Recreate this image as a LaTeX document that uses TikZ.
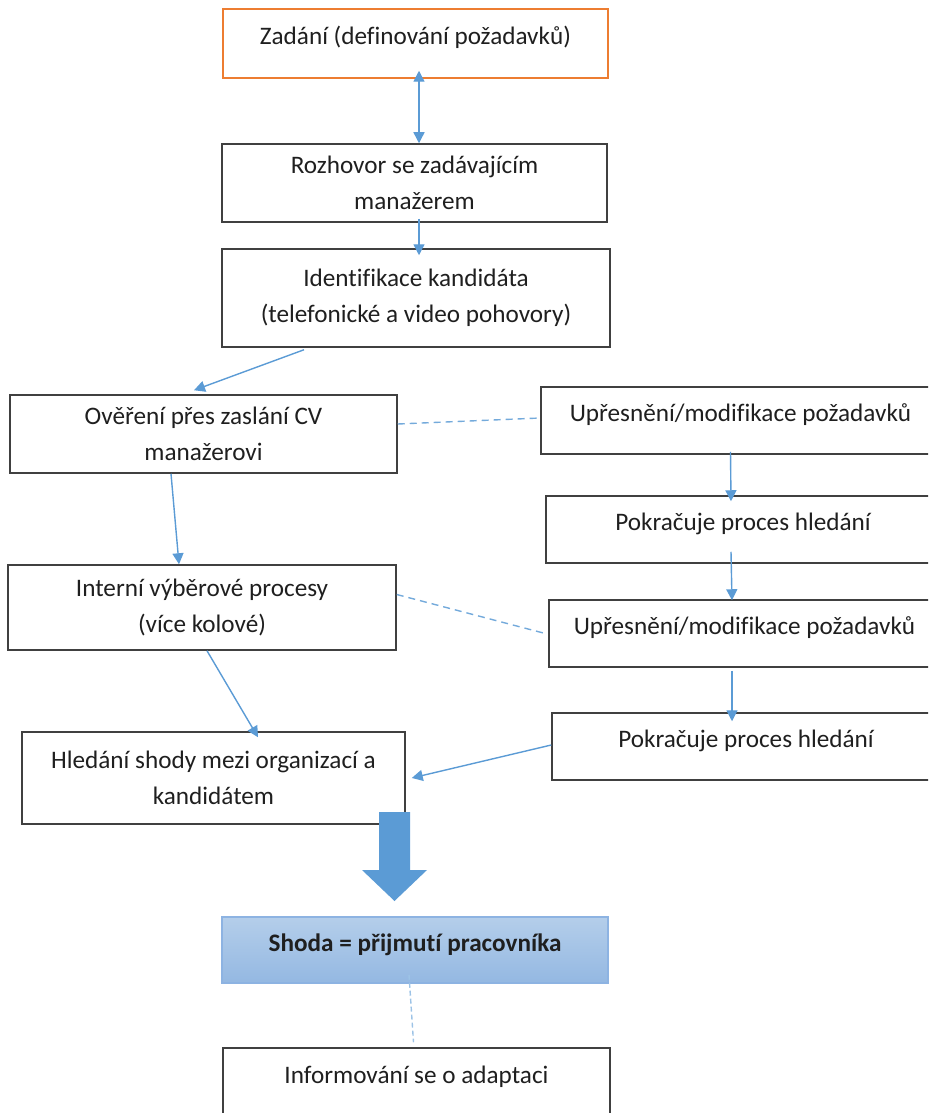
\documentclass[tikz,border=0pt]{standalone}
\usepackage{fontspec}
\setmainfont{Carlito}[Ligatures=NoCommon]
\usepackage{tikz}
\usetikzlibrary{arrows.meta, calc}
\definecolor{accblue}{HTML}{5B9BD5}
\definecolor{accorange}{HTML}{ED7D31}
\definecolor{boxline}{HTML}{404040}
\definecolor{shotop}{HTML}{B4CEEA}
\definecolor{shobot}{HTML}{94B8E2}
\definecolor{sholine}{HTML}{8DB3E2}
\definecolor{dotblue}{HTML}{9DC3E6}
\tikzset{
  box/.style      = {rectangle, draw=boxline, line width=0.75pt, align=center,
                     inner sep=0pt, text=black!88,
                     font=\fontsize{12.6}{18}\selectfont},
  onel/.style     = {text height=9pt, text depth=8pt},
  flow/.style     = {-{Triangle[length=5.5pt,width=5.5pt]}, accblue, line width=0.7pt},
  flowboth/.style = {{Triangle[length=5.5pt,width=5.5pt]}-{Triangle[length=5.5pt,width=5.5pt]},
                     accblue, line width=0.7pt},
  link/.style     = {accblue!85, line width=0.7pt, dash pattern=on 3.5pt off 2.5pt},
  hint/.style     = {dotblue, line width=0.7pt, dash pattern=on 2.5pt off 1.5pt},
}

\begin{document}
\begin{tikzpicture}[x=0.5pt, y=-0.5pt]
  \useasboundingbox (0,0) rectangle (928,1113);
  \clip (0,0) rectangle (928,1113);

  % left column
  \node[box, onel, draw=accorange, minimum width=192.5pt, minimum height=34.5pt] (zad) at (415.5,43.5) {Zadání (definování požadavků)};
  \node[box, minimum width=192.5pt, minimum height=39pt] (roz) at (414.5,183) {Rozhovor se zadávajícím\\manažerem};
  \node[box, minimum width=194pt, minimum height=49pt] (ide) at (416,298) {Identifikace kandidáta\\(telefonické a video pohovory)};
  \node[box, minimum width=193.5pt, minimum height=39pt] (ove) at (203.5,434) {Ověření přes zaslání CV\\manažerovi};
  \node[box, minimum width=194pt, minimum height=42.5pt] (int) at (202,607.5) {Interní výběrové procesy\\(více kolové)};
  \node[box, minimum width=191.5pt, minimum height=46pt] (hle) at (213.5,778) {Hledání shody mezi organizací a\\kandidátem};

  % right column
  \node[box, onel, minimum width=199.5pt, minimum height=33.5pt] (upr1) at (740.5,420.5) {Upřesnění/modifikace požadavků};
  \node[box, onel, minimum width=197pt, minimum height=33.5pt] (pok1) at (743,529.5) {Pokračuje proces hledání};
  \node[box, onel, minimum width=195.5pt, minimum height=33.5pt] (upr2) at (744.5,633.5) {Upřesnění/modifikace požadavků};
  \node[box, onel, minimum width=194pt, minimum height=33.5pt] (pok2) at (746,746.5) {Pokračuje proces hledání};

  % result
  \node[box, onel, draw=sholine, top color=shotop, bottom color=shobot, minimum width=193pt, minimum height=33pt, font=\fontsize{12.6}{18}\selectfont\bfseries] (sho) at (415,950) {Shoda = přijmutí pracovníka};
  \node[box, onel, minimum width=193.5pt, minimum height=34pt] (inf) at (416.5,1082) {Informování se o adaptaci};

  \fill[accblue] (379,812) -- (410,812) -- (410,870) -- (427,870) -- (394.5,901)
    -- (362,870) -- (379,870) -- cycle;

  \draw[flowboth] ($(roz.north)+(4.5,0)$) -- ($(zad.south)+(3.5,-8)$);
  \draw[flow] ($(roz.south)+(4.5,-4)$) -- ($(ide.north)+(3,7)$);
  \draw[flow] ($(ide.south)+(-112,2)$) -- ($(ove.north)+(-9.5,-4)$);
  \draw[flow] ($(ove.south)+(-32.5,0)$) -- ($(int.north)+(-23,0)$);
  \draw[flow] ($(int.south)+(5,0)$) -- ($(hle.north)+(44.5,6)$);
  \draw[link] ($(ove.east)+(0,-10)$) -- ($(upr1.west)+(0,-2.5)$);
  \draw[flow] ($(upr1.south)+(-10,-3)$) -- ($(pok1.north)+(-12,6)$);
  \draw[flow] ($(pok1.south)+(-12,-12)$) -- ($(upr2.north)+(-12.5,1)$);
  \draw[link] ($(int.east)+(0,-13)$) -- ($(upr2.west)+(-3,0)$);
  \draw[flow] ($(upr2.south)+(-12.5,3)$) -- ($(pok2.north)+(-14,9)$);
  \draw[flow] ($(pok2.west)+(0,-1.5)$) -- ($(hle.east)+(6,0)$);
  \draw[hint] ($(sho.south)+(-6,-9)$) -- ($(inf.north)+(-3,-5)$);
\end{tikzpicture}
\end{document}
